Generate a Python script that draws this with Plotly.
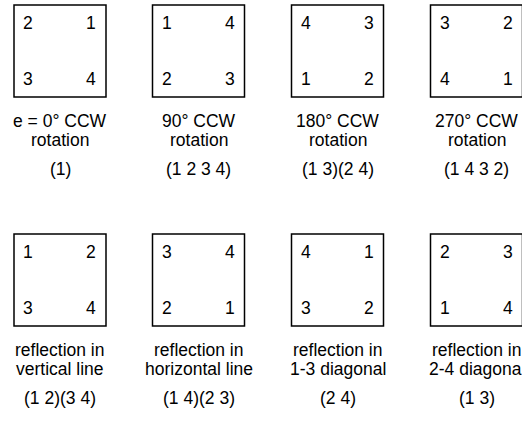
import plotly.graph_objects as go

# corner labels: top-left, top-right, bottom-left, bottom-right
corners = [
    [2, 1, 3, 4],
    [1, 4, 2, 3],
    [4, 3, 1, 2],
    [3, 2, 4, 1],
    [1, 2, 3, 4],
    [3, 4, 2, 1],
    [4, 1, 3, 2],
    [2, 3, 1, 4],
]
line1 = ["e = 0° CCW", "90° CCW", "180° CCW", "270° CCW",
         "reflection in", "reflection in", "reflection in", "reflection in"]
line2 = ["rotation", "rotation", "rotation", "rotation",
         "vertical line", "horizontal line", "1-3 diagonal", "2-4 diagonal"]
perms = ["(1)", "(1 2 3 4)", "(1 3)(2 4)", "(1 4 3 2)",
         "(1 2)(3 4)", "(1 4)(2 3)", "(2 4)", "(1 3)"]

W, H = 522, 421
col_cx = [60, 198.5, 337.5, 476.5]
row_top = [5, 234]
half = 46
FONT = "Liberation Sans, Arial, Helvetica, sans-serif"
FS = 17.5

fig = go.Figure()
shapes = []
annotations = []
for i in range(8):
    r, c = divmod(i, 4)
    cx = col_cx[c]
    top = row_top[r]
    left, right, bottom = cx - half, cx + half, top + 2 * half
    shapes.append(dict(type="rect", xref="x", yref="y", x0=left, x1=right,
                       y0=top, y1=bottom, line=dict(color="black", width=1.5)))
    pos = [(left + 14, top + 18), (right - 15, top + 18),
           (left + 14, top + 74), (right - 15, top + 74)]
    for (x, y), lab in zip(pos, corners[i]):
        annotations.append(dict(x=x, y=y, xref="x", yref="y", text=str(lab),
                                showarrow=False, xanchor="center", yanchor="middle",
                                font=dict(family=FONT, size=FS, color="black")))
    for dy, txt in [(116, line1[i]), (135, line2[i]), (164, perms[i])]:
        annotations.append(dict(x=cx, y=top + dy, xref="x", yref="y", text=txt,
                                showarrow=False, xanchor="center", yanchor="middle",
                                font=dict(family=FONT, size=FS, color="black")))

fig.add_trace(go.Scatter(x=[0, W], y=[0, H], mode="markers",
                         marker=dict(opacity=0), hoverinfo="skip", showlegend=False))
fig.update_layout(
    width=W, height=H, margin=dict(l=0, r=0, t=0, b=0),
    paper_bgcolor="white", plot_bgcolor="white",
    xaxis=dict(range=[0, W], visible=False, fixedrange=True),
    yaxis=dict(range=[H, 0], visible=False, fixedrange=True),
    shapes=shapes, annotations=annotations, showlegend=False,
)
fig.write_html("out.html", config={"displayModeBar": False},
               post_script="document.body.style.margin='0';document.body.style.overflow='hidden';")
